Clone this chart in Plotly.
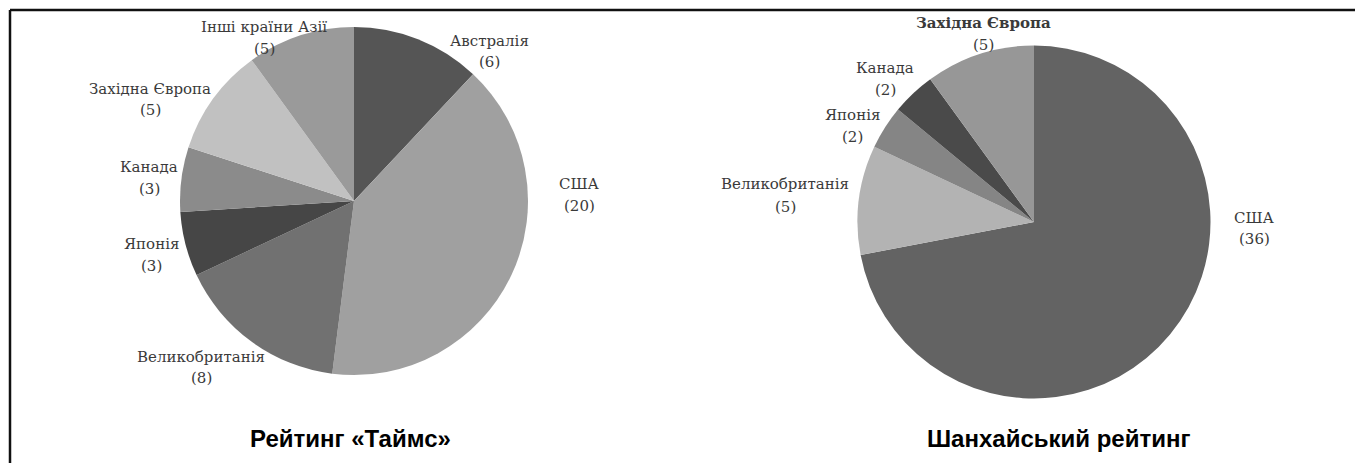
import plotly.graph_objects as go

# ---- data ----
times_labels = ["Австралія", "США", "Великобританія", "Японія", "Канада", "Західна Європа", "Інші країни Азії"]
times_values = [6, 20, 8, 3, 3, 5, 5]

shanghai_labels = ["США", "Великобританія", "Японія", "Канада", "Західна Європа"]
shanghai_values = [36, 5, 2, 2, 5]

titles = ["Рейтинг «Таймс»", "Шанхайський рейтинг"]

# ---- styles / layout ----
W, H = 1363, 463          # window size
OFF = 8                   # default page margin of the html body
FW, FH = W - OFF, H - OFF  # figure size

times_colors = ["#555555", "#a0a0a0", "#717171", "#464646", "#8b8b8b", "#c1c1c1", "#9a9a9a"]
shanghai_colors = ["#636363", "#b3b3b3", "#858585", "#4a4a4a", "#979797"]

# pie centre (px) and diameter (px), window coordinates
times_pie = (354, 201, 348)
shanghai_pie = (1034, 222, 353)

# label positions in px: (x, y of name line, y of value line)
times_label_pos = [(489, 41, 62), (579, 184, 206), (201, 357, 378), (151, 244, 266),
                   (149, 167, 189), (150, 89, 110), (264, 27, 49)]
shanghai_label_pos = [(1254, 218, 239), (785, 184, 207), (852, 115, 137),
                      (885, 68, 90), (983, 23, 45)]
title_pos = [(350, 438), (1058, 438)]


def px(x, y):
    return (x - OFF) / FW, 1 - (y - OFF) / FH


def domain(cx, cy, d):
    r = d / 2
    x0, y1 = px(cx - r, cy - r)
    x1, y0 = px(cx + r, cy + r)
    return dict(x=[x0, x1], y=[y0, y1])


fig = go.Figure()
for labels, values, colors, pie in [(times_labels, times_values, times_colors, times_pie),
                                     (shanghai_labels, shanghai_values, shanghai_colors, shanghai_pie)]:
    fig.add_trace(go.Pie(
        labels=labels, values=values, sort=False, direction="clockwise", rotation=0,
        marker=dict(colors=colors, line=dict(width=0)),
        textinfo="none", hoverinfo="label+value", showlegend=False,
        domain=domain(*pie),
    ))

annotations = []
label_font = dict(family="DejaVu Serif, Liberation Serif, serif", size=15, color="#3a3a3a")
for labels, values, positions, bold_last in [(times_labels, times_values, times_label_pos, False),
                                             (shanghai_labels, shanghai_values, shanghai_label_pos, True)]:
    for i, (lab, val, (x, y1, y2)) in enumerate(zip(labels, values, positions)):
        name = f"<b>{lab}</b>" if (bold_last and i == len(labels) - 1) else lab
        ax, ay = px(x, y1)
        annotations.append(dict(text=name, x=ax, y=ay, xref="paper", yref="paper",
                                xanchor="center", yanchor="middle", showarrow=False, font=label_font))
        ax, ay = px(x, y2)
        annotations.append(dict(text=f"({val})", x=ax, y=ay, xref="paper", yref="paper",
                                xanchor="center", yanchor="middle", showarrow=False, font=label_font))

for t, (x, y) in zip(titles, title_pos):
    ax, ay = px(x, y)
    annotations.append(dict(text=f"<b>{t}</b>", x=ax, y=ay, xref="paper", yref="paper",
                            xanchor="center", yanchor="middle", showarrow=False,
                            font=dict(family="Liberation Sans, Arial, sans-serif", size=24, color="#000000")))

bx, by = px(10, 10)
shapes = [
    dict(type="line", xref="paper", yref="paper", x0=bx, x1=1, y0=by, y1=by,
         line=dict(color="#111111", width=2.5)),
    dict(type="line", xref="paper", yref="paper", x0=bx, x1=bx, y0=0, y1=by,
         line=dict(color="#111111", width=2.5)),
]

fig.update_layout(width=FW, height=FH, margin=dict(l=0, r=0, t=0, b=0),
                  paper_bgcolor="white", plot_bgcolor="white",
                  annotations=annotations, shapes=shapes)

fig.write_html("out.html")
